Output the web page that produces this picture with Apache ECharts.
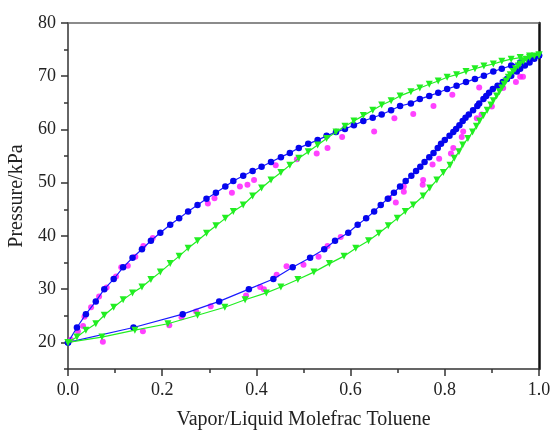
<!DOCTYPE html>
<html>
<head>
<meta charset="utf-8">
<script src="https://cdn.jsdelivr.net/npm/echarts@6/dist/echarts.min.js"></script>
<style>
html,body{margin:0;padding:0;background:#fff;}
#c{width:551px;height:430px;}
</style>
</head>
<body>
<div id="c"></div>
<script>
// Liquid mole fraction grid
var liqX = [0, 0.019, 0.038, 0.059, 0.077, 0.097, 0.117, 0.137, 0.157, 0.176,
  0.196, 0.217, 0.236, 0.255, 0.275, 0.294, 0.314, 0.334, 0.351, 0.372,
  0.392, 0.411, 0.431, 0.452, 0.471, 0.490, 0.510, 0.530, 0.549, 0.569,
  0.588, 0.607, 0.627, 0.647, 0.666, 0.686, 0.705, 0.728, 0.747, 0.767,
  0.786, 0.805, 0.825, 0.845, 0.864, 0.883, 0.903, 0.921, 0.941, 0.960,
  0.980, 1.0];
// Blue model: pressure (kPa) and vapour composition
var pBlue = [20.0, 22.8, 25.3, 27.7, 30.0, 31.9, 34.1, 35.9, 37.5, 39.1,
  40.6, 42.1, 43.3, 44.6, 45.8, 47.0, 48.1, 49.3, 50.3, 51.3,
  52.2, 53.0, 53.9, 54.8, 55.6, 56.5, 57.3, 58.0, 58.8, 59.5,
  60.1, 60.8, 61.6, 62.2, 62.8, 63.6, 64.4, 64.9, 65.7, 66.3,
  66.9, 67.6, 68.2, 68.9, 69.5, 70.1, 70.9, 71.4, 72.0, 72.6,
  73.3, 73.9];
var vapBlue = [0, 0.139, 0.2435, 0.321, 0.384, 0.436, 0.477, 0.514, 0.544, 0.567,
  0.595, 0.615, 0.633, 0.650, 0.664, 0.679, 0.692, 0.705, 0.717, 0.729,
  0.739, 0.748, 0.757, 0.767, 0.776, 0.785, 0.792, 0.800, 0.810, 0.818,
  0.824, 0.831, 0.838, 0.844, 0.851, 0.860, 0.869, 0.873, 0.882, 0.888,
  0.894, 0.902, 0.912, 0.923, 0.932, 0.941, 0.953, 0.960, 0.970, 0.980,
  0.990, 1.0];
// Green model: pressure (kPa) and vapour composition
var pGreen = [20.0, 21.0, 22.3, 23.5, 25.1, 26.6, 28.0, 29.3, 30.4, 31.8,
  33.2, 34.8, 36.2, 37.7, 39.1, 40.5, 41.9, 43.3, 44.6, 45.8,
  47.5, 49.0, 50.5, 51.9, 53.3, 54.6, 55.8, 57.1, 58.3, 59.5,
  60.6, 61.6, 62.6, 63.6, 64.6, 65.4, 66.3, 67.1, 67.8, 68.5,
  69.1, 69.8, 70.3, 70.9, 71.4, 71.9, 72.3, 72.8, 73.2, 73.5,
  73.8, 74.0];
var vapGreen = [0, 0.072, 0.142, 0.212, 0.275, 0.333, 0.376, 0.421, 0.452, 0.488,
  0.522, 0.555, 0.586, 0.611, 0.638, 0.660, 0.680, 0.699, 0.716, 0.733,
  0.754, 0.768, 0.783, 0.797, 0.811, 0.820, 0.830, 0.838, 0.849, 0.859,
  0.867, 0.874, 0.882, 0.890, 0.898, 0.903, 0.910, 0.916, 0.921, 0.926,
  0.930, 0.935, 0.939, 0.945, 0.950, 0.956, 0.960, 0.967, 0.973, 0.980,
  0.990, 1.0];
// Experimental points (magenta)
var expX = [0.006, 0.021, 0.032, 0.035, 0.049, 0.066, 0.082, 0.102, 0.113, 0.127,
  0.143, 0.160, 0.180, 0.297, 0.311, 0.348, 0.365, 0.381, 0.395, 0.441,
  0.486, 0.528, 0.551, 0.582, 0.650, 0.693, 0.733, 0.776, 0.816, 0.873,
  0.924, 0.951, 0.960, 0.966,
  0.074, 0.159, 0.215, 0.241, 0.272, 0.303, 0.378, 0.408, 0.416, 0.443,
  0.464, 0.500, 0.532, 0.551, 0.579, 0.682, 0.696, 0.713, 0.713, 0.753,
  0.754, 0.774, 0.788, 0.813, 0.818, 0.836, 0.839, 0.868, 0.878, 0.900];
var expP = [20.5, 22.1, 23.1, 24.8, 26.6, 28.6, 30.3, 32.4, 34.1, 34.4,
  36.1, 38.1, 39.6, 46.1, 47.1, 48.1, 49.3, 49.6, 50.5, 53.3,
  54.4, 55.5, 56.5, 58.6, 59.6, 62.1, 62.9, 64.4, 66.5, 67.9,
  67.8, 68.9, 69.9, 69.9,
  20.1, 22.1, 23.2, 24.7, 25.8, 26.8, 28.8, 30.4, 30.0, 32.7,
  34.3, 34.6, 36.1, 38.1, 39.8, 47.1, 46.3, 49.3, 48.3, 49.6,
  50.5, 53.4, 54.5, 55.5, 56.5, 58.6, 59.6, 62.1, 62.8, 64.3];
var xTicks = [0, 0.2, 0.4, 0.6, 0.8, 1.0];
var yMajor = [20, 30, 40, 50, 60, 70, 80];
var yMinor = [15, 25, 35, 45, 55, 65, 75];

function pairs(xs, ys) { return xs.map(function (x, i) { return [x, ys[i]]; }); }

var serif = '"Liberation Serif", "Times New Roman", serif';
var chart = echarts.init(document.getElementById('c'), null, {renderer: 'canvas'});
var axisColor = '#333';
chart.setOption({
  backgroundColor: '#fff',
  animation: false,
  grid: {left: 68, right: 12, top: 23, bottom: 61, containLabel: false, outerBoundsMode: 'none'},
  xAxis: [{
    type: 'value', min: 0, max: 1, interval: 0.2,
    name: 'Vapor/Liquid Molefrac Toluene', nameLocation: 'middle', nameGap: 41,
    nameTextStyle: {fontFamily: serif, fontSize: 20, color: '#222'},
    axisLine: {show: true, lineStyle: {color: axisColor, width: 1.5}},
    axisTick: {show: true, inside: false, length: 7, lineStyle: {color: axisColor, width: 1.5}},
    minorTick: {show: true, splitNumber: 2, length: 4, lineStyle: {color: axisColor, width: 1.5}},
    axisLabel: {fontFamily: serif, fontSize: 18, color: '#222', margin: 12,
      formatter: function (v) { return v.toFixed(1); }},
    splitLine: {show: false}
  }, {
    type: 'value', min: 0, max: 1, position: 'top',
    axisLine: {show: true, onZero: false, lineStyle: {color: '#666', width: 1.5}},
    axisTick: {show: false}, axisLabel: {show: false}, splitLine: {show: false}
  }],
  yAxis: [{
    type: 'value', min: 15, max: 80,
    name: 'Pressure/kPa', nameLocation: 'middle', nameGap: 36,
    nameTextStyle: {fontFamily: serif, fontSize: 20, color: '#222'},
    axisLine: {show: true, lineStyle: {color: axisColor, width: 1.5}},
    axisTick: {show: true, length: 7, customValues: yMajor, lineStyle: {color: axisColor, width: 1.5}},
    axisLabel: {fontFamily: serif, fontSize: 18, color: '#222', margin: 12, customValues: yMajor},
    splitLine: {show: false}
  }, {
    type: 'value', min: 15, max: 80, position: 'left',
    axisLine: {show: false},
    axisTick: {show: true, length: 4, customValues: yMinor, lineStyle: {color: axisColor, width: 1.5}},
    axisLabel: {show: false, customValues: yMinor}, splitLine: {show: false}
  }, {
    type: 'value', min: 15, max: 80, position: 'right',
    axisLine: {show: true, onZero: false, lineStyle: {color: '#111', width: 2.5}},
    axisTick: {show: false}, axisLabel: {show: false}, splitLine: {show: false}
  }],
  series: [{
    type: 'scatter', data: pairs(expX, expP), symbol: 'circle', symbolSize: 6,
    itemStyle: {color: '#ff11ff'}, z: 2
  }, {
    type: 'line', data: pairs(liqX, pBlue), symbol: 'circle', symbolSize: 6.5, showAllSymbol: true,
    lineStyle: {color: '#1a1aff', width: 1.2}, itemStyle: {color: '#0505ee'}, z: 3
  }, {
    type: 'line', data: pairs(vapBlue, pBlue), symbol: 'circle', symbolSize: 6.5, showAllSymbol: true,
    lineStyle: {color: '#1a1aff', width: 1.2}, itemStyle: {color: '#0505ee'}, z: 3
  }, {
    type: 'line', data: pairs(liqX, pGreen), symbol: 'triangle', symbolRotate: 180, symbolSize: 7, showAllSymbol: true,
    lineStyle: {color: '#22ee22', width: 1.2}, itemStyle: {color: '#22ee22'}, z: 4
  }, {
    type: 'line', data: pairs(vapGreen, pGreen), symbol: 'triangle', symbolRotate: 180, symbolSize: 7, showAllSymbol: true,
    lineStyle: {color: '#22ee22', width: 1.2}, itemStyle: {color: '#22ee22'}, z: 4
  }]
});
</script>
</body>
</html>
